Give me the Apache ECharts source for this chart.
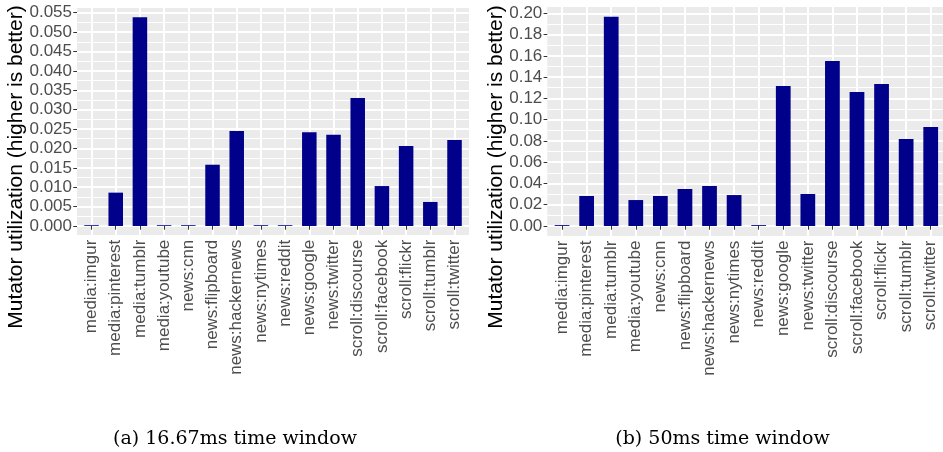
<!DOCTYPE html>
<html>
<head>
<meta charset="utf-8">
<script src="https://cdn.jsdelivr.net/npm/echarts@6/dist/echarts.min.js"></script>
<style>
  html, body { margin: 0; padding: 0; background: #fff; }
  #chart { width: 943px; height: 452px; }
</style>
</head>
<body>
<div id="chart"></div>
<script>
// Benchmarks on the x axis (same order in both panels)
const categories = [
  'media:imgur', 'media:pinterest', 'media:tumblr', 'media:youtube',
  'news:cnn', 'news:flipboard', 'news:hackernews', 'news:nytimes',
  'news:reddit', 'news:google', 'news:twitter', 'scroll:discourse',
  'scroll:facebook', 'scroll:flickr', 'scroll:tumblr', 'scroll:twitter'
];

// Mutator utilization, 16.67ms window
const util16ms = [
  0.0002, 0.0086, 0.0538, 0.0002, 0.0002, 0.0158, 0.0245, 0.0002,
  0.0002, 0.0242, 0.0235, 0.0330, 0.0103, 0.0206, 0.0062, 0.0222
];

// Mutator utilization, 50ms window
const util50ms = [
  0.0008, 0.0282, 0.1968, 0.0244, 0.0282, 0.0348, 0.0376, 0.0291,
  0.0008, 0.1316, 0.0301, 0.1551, 0.1260, 0.1335, 0.0818, 0.0931
];

// Y tick labels
const ticks16ms = ['0.000', '0.005', '0.010', '0.015', '0.020', '0.025',
                   '0.030', '0.035', '0.040', '0.045', '0.050', '0.055'];
const ticks50ms = ['0.00', '0.02', '0.04', '0.06', '0.08', '0.10',
                   '0.12', '0.14', '0.16', '0.18', '0.20'];

const yTitle = 'Mutator utilization (higher is better)';
const captions = ['(a) 16.67ms time window', '(b) 50ms time window'];

// Panel geometry
const panels = [
  { values: util16ms, ticks: ticks16ms, decimals: 3, step: 0.005, top: 0.055,
    expandMax: 0.0564, zeroY: 226, topY: 12.7, left: 77, band: 24.2,
    titleX: 16, capX: 235 },
  { values: util50ms, ticks: ticks50ms, decimals: 2, step: 0.02, top: 0.20,
    expandMax: 0.2066, zeroY: 226, topY: 13.3, left: 547.3, band: 24.73,
    titleX: 496, capX: 722.5 }
];

const BAR = '#00008B';
const PANEL_BG = '#EBEBEB';
const TICK_TEXT = '#4D4D4D';
const SANS = '"Liberation Sans", Arial, sans-serif';

const grid = [], xAxis = [], yAxis = [], series = [], graphic = [];

panels.forEach((p, i) => {
  const scale = (p.zeroY - p.topY) / p.top;
  const minor = p.step / 2;
  const panelTop = p.zeroY - p.expandMax * scale;
  const panelBottom = p.zeroY + minor * scale;
  const panelWidth = 16.2 * p.band;
  const base = i * 3;

  // background panel with minor grid lines
  grid.push({ left: p.left, top: panelTop, width: panelWidth, height: panelBottom - panelTop,
              show: true, backgroundColor: PANEL_BG, borderWidth: 0 });
  // major horizontal lines, tick marks and labels
  grid.push({ left: p.left, top: p.topY, width: panelWidth, height: p.zeroY - p.topY });
  // bars
  grid.push({ left: p.left + 0.1 * p.band, top: panelTop, width: 16 * p.band,
              height: panelBottom - panelTop });

  xAxis.push({ gridIndex: base, type: 'value', min: 0, max: 1, show: false });
  xAxis.push({ gridIndex: base + 1, type: 'value', min: 0, max: 1, show: false });
  xAxis.push({
    gridIndex: base + 2, type: 'category', data: categories,
    axisLine: { show: false },
    axisTick: { show: true, alignWithLabel: true, length: 3.7,
                lineStyle: { color: '#333333', width: 1 } },
    axisLabel: { rotate: 90, interval: 0, color: TICK_TEXT, fontSize: 17,
                 fontFamily: SANS, margin: 4 },
    splitLine: { show: true, alignWithLabel: true, lineStyle: { color: '#ffffff', width: 2 } }
  });

  yAxis.push({
    gridIndex: base, type: 'value', min: -minor, max: p.expandMax, interval: minor,
    axisLine: { show: false }, axisTick: { show: false }, axisLabel: { show: false },
    splitLine: { show: true, lineStyle: { color: '#ffffff', width: 1 } }
  });
  yAxis.push({
    gridIndex: base + 1, type: 'value', min: 0, max: p.top, interval: p.step,
    axisLine: { show: false },
    axisTick: { show: true, length: 3.7, lineStyle: { color: '#333333', width: 1 } },
    axisLabel: {
      color: TICK_TEXT, fontSize: 17, fontFamily: SANS, margin: 5,
      formatter: v => {
        const s = v.toFixed(p.decimals);
        return p.ticks.includes(s) ? s : '';
      }
    },
    splitLine: { show: true, lineStyle: { color: '#ffffff', width: 2 } }
  });
  yAxis.push({ gridIndex: base + 2, type: 'value', min: -minor, max: p.expandMax, show: false });

  series.push({
    type: 'bar', xAxisIndex: base + 2, yAxisIndex: base + 2,
    data: p.values, barWidth: '60%',
    itemStyle: { color: BAR }, silent: true
  });

  graphic.push({
    type: 'text', x: p.titleX, y: 167, rotation: Math.PI / 2,
    style: { text: yTitle, font: '21px ' + SANS, fill: '#000000',
             align: 'center', verticalAlign: 'middle',
             textAlign: 'center', textVerticalAlign: 'middle' }
  });
  graphic.push({
    type: 'text', x: p.capX, y: 439,
    style: { text: captions[i], font: '19px "DejaVu Serif", serif', fill: '#000000',
             align: 'center', verticalAlign: 'middle',
             textAlign: 'center', textVerticalAlign: 'middle' }
  });
});

const chart = echarts.init(document.getElementById('chart'), null, { renderer: 'canvas' });
chart.setOption({
  animation: false,
  backgroundColor: '#ffffff',
  grid, xAxis, yAxis, series, graphic
});
</script>
</body>
</html>
